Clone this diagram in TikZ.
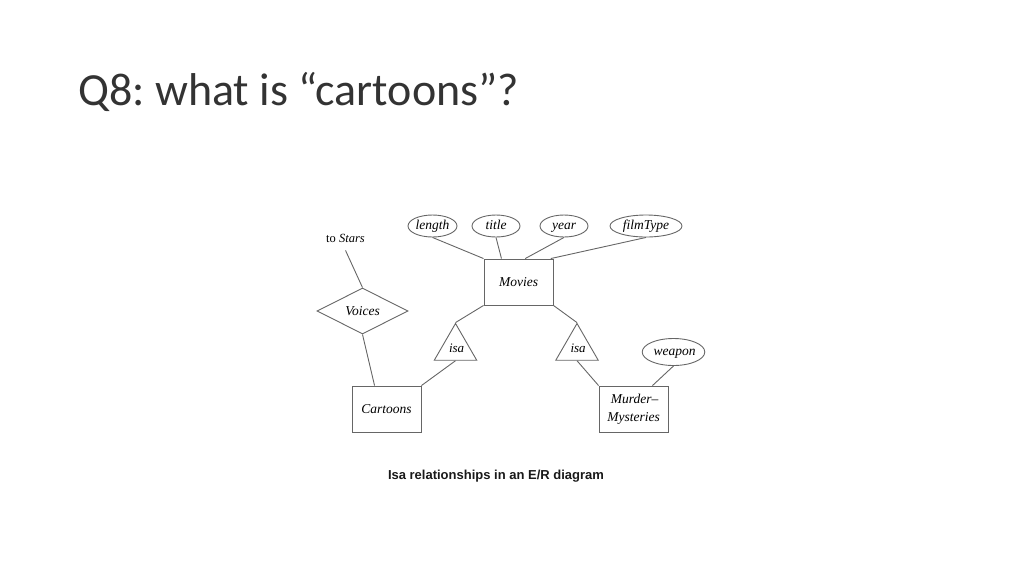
\documentclass[tikz,border=0pt]{standalone}
\usepackage{fontspec}
\setmainfont{Liberation Serif}
\setsansfont{Liberation Sans}
\newfontfamily\titlefont{Carlito}
\usetikzlibrary{shapes.geometric}
\frenchspacing
\begin{document}
\begin{tikzpicture}[x=1pt,y=-1pt,
  line/.style={draw=black!60,line width=0.9pt},
  entidad/.style={shape=rectangle,line,minimum width=69pt,minimum height=46pt,inner sep=0pt,font=\fontsize{13.5}{18}\selectfont\itshape},
  atributo/.style={shape=ellipse,line,minimum height=22pt,inner sep=0pt,text height=9pt,text depth=2.5pt,font=\fontsize{13.5}{14}\selectfont\itshape},
  relacion/.style={shape=diamond,line,minimum width=91pt,minimum height=46pt,inner sep=0pt,font=\fontsize{13.5}{14}\selectfont\itshape},
  esun/.style={shape=regular polygon,regular polygon sides=3,line,minimum size=40.4pt,inner sep=0pt,font=\fontsize{13}{14}\selectfont\itshape}]
  \useasboundingbox (0,0) rectangle (1024,576);
  \node[anchor=base west,inner sep=0pt,font=\titlefont\fontsize{46}{50}\selectfont,text=black!80] (titulo) at (78,105) {Q8: what is “cartoons”?};

  \node[entidad] (movies) at (518.5,282) {Movies};
  \node[entidad] (cartoons) at (386.5,409) {Cartoons};
  \node[entidad,align=center] (murderMysteries) at (633.5,409) {\,Murder--\\Mysteries};

  \node[atributo,minimum width=49pt] (length) at (432.5,226) {length};
  \node[atributo,minimum width=48pt] (title) at (496,226) {title};
  \node[atributo,minimum width=48pt] (year) at (564,226) {year};
  \node[atributo,minimum width=72pt] (filmType) at (646,226) {filmType};
  \node[atributo,minimum width=59pt,minimum height=27pt] (weapon) at (673.5,352) {\,weapon};

  \node[relacion] (voices) at (362.5,311) {Voices};
  \node[esun] (isaCartoons) at (455.5,348) {\,isa};
  \node[esun] (isaMysteries) at (577,348) {\,isa};

  \node[inner sep=0pt,font=\fontsize{12.5}{14}\selectfont] (toStars) at (345.5,238) {to \textit{Stars}};
  \node[font=\sffamily\bfseries\fontsize{13}{15}\selectfont,text=black!90] (caption) at (496,476) {Isa relationships in an E/R diagram};

  \path [-,line] (length.south) edge (movies.north west);
  \path [-,line] (title.south) edge (movies.126);
  \path [-,line] (year.south) edge (movies.74);
  \path [-,line] (filmType.south) edge (movies.36);
  \path [-,line] ([yshift=-8pt]toStars.south) edge (voices.north);
  \path [-,line] (voices.south) edge (cartoons.117);
  \path [-,line] (movies.south west) edge (isaCartoons.corner 1);
  \path [-,line] (movies.south east) edge (isaMysteries.corner 1);
  \path [-,line] (isaCartoons.south) edge (cartoons.north east);
  \path [-,line] (isaMysteries.south) edge (murderMysteries.north west);
  \path [-,line] (weapon.south) edge (murderMysteries.51);
\end{tikzpicture}
\end{document}
